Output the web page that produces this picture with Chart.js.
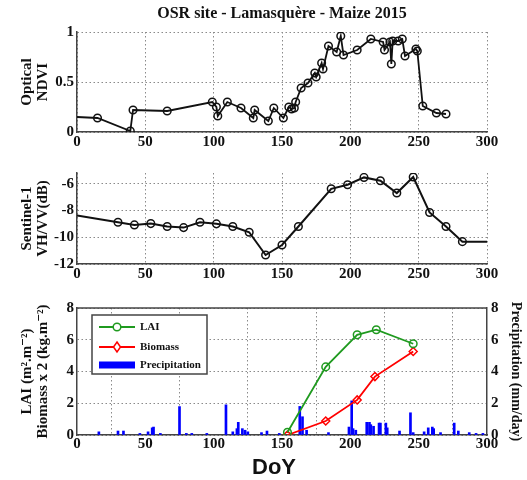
<!DOCTYPE html>
<html><head><meta charset="utf-8">
<script src="https://cdn.jsdelivr.net/npm/chart.js@4.4.1/dist/chart.umd.min.js"></script>
<style>
html,body{margin:0;padding:0;background:#fff;}
#wrap{position:relative;width:527px;height:480px;overflow:hidden;background:#fff;}
.c{position:absolute;left:0;width:527px;}
canvas{display:block;}
</style></head><body>
<div id="wrap">
<div class="c" style="top:0;height:150px"><canvas id="c1" width="527" height="150"></canvas></div>
<div class="c" style="top:150px;height:135px"><canvas id="c2" width="527" height="135"></canvas></div>
<div class="c" style="top:285px;height:195px"><canvas id="c3" width="527" height="195"></canvas></div>
</div>
<script>
// ---- data ----
const xTicks = [0, 50, 100, 150, 200, 250, 300];
const ndviTicks = [0, 0.5, 1];
const s1Ticks = [-12, -10, -8, -6];
const bottomTicks = [0, 2, 4, 6, 8];

const ndviDoy = [0, 15, 39, 41, 66, 99, 102, 103, 110, 120, 129, 130, 140, 144, 151, 155, 157, 159, 160, 164, 169, 174, 175, 179, 180, 184, 190, 193, 195, 205, 215, 224, 225, 229, 230, 231, 235, 238, 240, 248, 249, 253, 263, 270];
const ndviVal = [0.15, 0.14, 0.01, 0.22, 0.21, 0.30, 0.25, 0.16, 0.30, 0.24, 0.14, 0.22, 0.11, 0.24, 0.14, 0.25, 0.23, 0.24, 0.30, 0.44, 0.49, 0.59, 0.55, 0.69, 0.63, 0.86, 0.80, 0.96, 0.77, 0.82, 0.93, 0.90, 0.82, 0.90, 0.68, 0.91, 0.91, 0.93, 0.76, 0.83, 0.81, 0.26, 0.19, 0.18];

const s1Doy = [0, 30, 42, 54, 66, 78, 90, 102, 114, 126, 138, 150, 162, 186, 198, 210, 222, 234, 246, 258, 270, 282, 300];
const s1Val = [-8.38, -8.88, -9.08, -8.98, -9.2, -9.28, -8.88, -9.0, -9.2, -9.63, -11.33, -10.58, -9.2, -6.38, -6.08, -5.53, -5.78, -6.7, -5.5, -8.15, -9.2, -10.33, -10.33];

const laiDoy = [154, 182, 205, 219, 246];
const laiVal = [0.17, 4.29, 6.31, 6.63, 5.75];
const bioDoy = [154, 182, 205, 218, 246];
const bioVal = [0.0, 0.88, 2.21, 3.68, 5.26];

const precipDoy = [16, 30, 34, 46, 52, 55, 56, 61, 75, 80, 84, 95, 109, 114, 117, 118, 121, 123, 125, 135, 139, 148, 163, 165, 168, 184, 199, 201, 202, 204, 212, 214, 215, 217, 221, 222, 226, 227, 236, 244, 246, 254, 257, 260, 261, 266, 276, 279, 287, 292, 297];
const precipVal = [0.2, 0.25, 0.25, 0.1, 0.2, 0.45, 0.5, 0.1, 1.79, 0.1, 0.1, 0.1, 1.9, 0.2, 0.4, 0.8, 0.4, 0.3, 0.2, 0.15, 0.25, 0.1, 1.8, 1.15, 0.3, 0.15, 0.5, 2.15, 0.4, 0.3, 0.8, 0.8, 0.65, 0.55, 0.75, 0.75, 0.75, 0.45, 0.25, 1.4, 0.15, 0.2, 0.45, 0.5, 0.4, 0.15, 0.75, 0.25, 0.15, 0.1, 0.1];

// ---- helpers ----
const SERIF = "'Liberation Serif', 'DejaVu Serif', serif";
const tickFont = {family: SERIF, weight: 'bold', size: 15};
const gridOpts = {color: '#8a8a8a', lineWidth: 1, drawTicks: false};
const borderOpts = {display: true, color: '#444', width: 1.5, dash: [1.5, 2.5]};
const pts = (xs, ys) => xs.map((x, i) => ({x: x, y: ys[i]}));

function xAxis(h, pad) {
  return {
    type: 'linear', min: 0, max: 300, offset: false,
    afterBuildTicks: s => { s.ticks = xTicks.map(v => ({value: v})); },
    afterFit: s => { s.height = h; },
    grid: gridOpts, border: borderOpts,
    ticks: {font: tickFont, color: '#111', padding: pad, maxRotation: 0, autoSkip: false, callback: v => String(v)}
  };
}
function yAxis(min, max, ticks, title) {
  return {
    type: 'linear', position: 'left', min: min, max: max,
    afterBuildTicks: s => { s.ticks = ticks.map(v => ({value: v})); },
    afterFit: s => { s.width = 77; },
    grid: gridOpts, border: borderOpts,
    ticks: {font: tickFont, color: '#111', padding: 3, callback: v => String(v)},
    title: {display: true, text: title, color: '#111',
      font: {family: SERIF, weight: 'bold', size: 15, lineHeight: 1.07},
      padding: {top: 19, bottom: 0}}
  };
}
const common = {responsive: false, animation: false, events: []};

// ---- panel 1 : NDVI ----
new Chart(document.getElementById('c1'), {
  type: 'line',
  data: {datasets: [{
    label: 'NDVI', data: pts(ndviDoy, ndviVal),
    borderColor: '#111', borderWidth: 1.8, backgroundColor: 'rgba(0,0,0,0)',
    pointRadius: ndviDoy.map((d, i) => i === 0 ? 0 : 3.8),
    pointBorderColor: '#111', pointBorderWidth: 1.5, pointBackgroundColor: 'rgba(0,0,0,0)',
    tension: 0
  }]},
  options: Object.assign({}, common, {
    layout: {padding: {top: 0, right: 40, left: 0, bottom: 0}},
    plugins: {legend: {display: false}, tooltip: {enabled: false},
      title: {display: true, fullSize: false, text: 'OSR site - Lamasquère - Maize 2015', color: '#111',
        font: {family: SERIF, weight: 'bold', size: 16, lineHeight: 1.2},
        padding: {top: 4, bottom: 8.8}}},
    scales: {x: xAxis(18, 1), y: yAxis(0, 1, ndviTicks, ['Optical', 'NDVI'])}
  })
});

// ---- panel 2 : Sentinel-1 ----
new Chart(document.getElementById('c2'), {
  type: 'line',
  data: {datasets: [{
    label: 'VH/VV', data: pts(s1Doy, s1Val),
    borderColor: '#111', borderWidth: 2, backgroundColor: 'rgba(0,0,0,0)',
    pointRadius: s1Doy.map((d, i) => (i === 0 || i === s1Doy.length - 1) ? 0 : 3.8),
    pointBorderColor: '#111', pointBorderWidth: 1.5, pointBackgroundColor: 'rgba(0,0,0,0)',
    tension: 0
  }]},
  options: Object.assign({}, common, {
    layout: {padding: {top: 23, right: 40, left: 0, bottom: 0}},
    plugins: {legend: {display: false}, tooltip: {enabled: false}},
    scales: {x: xAxis(21, 1), y: yAxis(-12, -5.2, s1Ticks, ['Sentinel-1', 'VH/VV(dB)'])}
  })
});

// ---- panel 3 : LAI / Biomass / Precipitation ----
const boxLegend = {
  id: 'boxLegend',
  afterDraw(chart) {
    const {ctx, chartArea: a} = chart;
    const ds = chart.data.datasets;
    const bx = a.left + 15, by = a.top + 7, bw = 115, bh = 59;
    ctx.save();
    // top frame of the axes box
    ctx.strokeStyle = '#444'; ctx.lineWidth = 1.5;
    ctx.beginPath(); ctx.moveTo(a.left, a.top); ctx.lineTo(a.right, a.top); ctx.stroke();
    // legend box
    ctx.fillStyle = '#fff'; ctx.fillRect(bx, by, bw, bh);
    ctx.strokeRect(bx, by, bw, bh);
    const rows = [a.top + 19, a.top + 39, a.top + 57];
    const x0 = a.left + 22, x1 = a.left + 58, xm = a.left + 40;
    ctx.font = "bold 11px " + SERIF; ctx.textBaseline = 'middle'; ctx.textAlign = 'left';
    ds.forEach((d, i) => {
      const y = rows[i];
      if (d.type === 'bar') {
        ctx.fillStyle = d.backgroundColor;
        ctx.fillRect(x0, y - 3.5, x1 - x0, 7);
      } else {
        ctx.strokeStyle = d.borderColor; ctx.lineWidth = 1.8;
        ctx.beginPath(); ctx.moveTo(x0, y); ctx.lineTo(x1, y); ctx.stroke();
        ctx.beginPath();
        if (d.pointStyle === 'rectRot') {
          ctx.moveTo(xm, y - 5); ctx.lineTo(xm + 3.5, y); ctx.lineTo(xm, y + 5); ctx.lineTo(xm - 3.5, y); ctx.closePath();
        } else {
          ctx.arc(xm, y, 3.8, 0, Math.PI * 2);
        }
        ctx.fillStyle = '#fff'; ctx.fill(); ctx.lineWidth = 1.5; ctx.stroke();
      }
      ctx.fillStyle = '#111';
      ctx.fillText(d.label, x1 + 5, y);
    });
    // x-axis label
    ctx.font = "bold 22px 'Liberation Sans', Arial, sans-serif";
    ctx.textAlign = 'center'; ctx.fillStyle = '#111';
    ctx.fillText('DoY', 274, 183);
    ctx.restore();
  }
};

new Chart(document.getElementById('c3'), {
  type: 'line',
  data: {datasets: [
    {label: 'LAI', type: 'line', data: pts(laiDoy, laiVal), yAxisID: 'y', order: 1,
      borderColor: '#1f9a1f', borderWidth: 1.8, backgroundColor: 'rgba(0,0,0,0)',
      pointStyle: 'circle', pointRadius: 3.8, pointBorderWidth: 1.5,
      pointBorderColor: '#1f9a1f', pointBackgroundColor: 'rgba(0,0,0,0)', tension: 0},
    {label: 'Biomass', type: 'line', data: pts(bioDoy, bioVal), yAxisID: 'y', order: 2,
      borderColor: '#ff0000', borderWidth: 1.8, backgroundColor: 'rgba(0,0,0,0)',
      pointStyle: 'rectRot', pointRadius: 4, pointBorderWidth: 1.5,
      pointBorderColor: '#ff0000', pointBackgroundColor: 'rgba(0,0,0,0)', tension: 0},
    {label: 'Precipitation', type: 'bar', data: pts(precipDoy, precipVal), yAxisID: 'y2', order: 3,
      backgroundColor: '#0000ff', borderWidth: 0, barThickness: 2, grouped: false}
  ]},
  options: Object.assign({}, common, {
    layout: {padding: {top: 23, right: 0, left: 0, bottom: 0}},
    plugins: {legend: {display: false}, tooltip: {enabled: false}},
    scales: {
      x: xAxis(45, 0),
      y: yAxis(0, 8, bottomTicks, ['LAI (m².m⁻²)', 'Biomass x 2 (kg.m⁻²)']),
      y2: {
        type: 'linear', position: 'right', min: 0, max: 8,
        afterBuildTicks: s => { s.ticks = bottomTicks.map(v => ({value: v})); },
        afterFit: s => { s.width = 40; },
        grid: {drawOnChartArea: false, drawTicks: false},
        border: {display: true, color: '#444', width: 1.5},
        ticks: {font: tickFont, color: '#111', padding: 4, callback: v => String(v)},
        title: {display: true, text: 'Precipitation (mm/day)', color: '#111',
          font: {family: SERIF, weight: 'bold', size: 14, lineHeight: 1.07},
          padding: {top: 4, bottom: 0}}
      }
    }
  }),
  plugins: [boxLegend]
});
</script>
</body></html>
